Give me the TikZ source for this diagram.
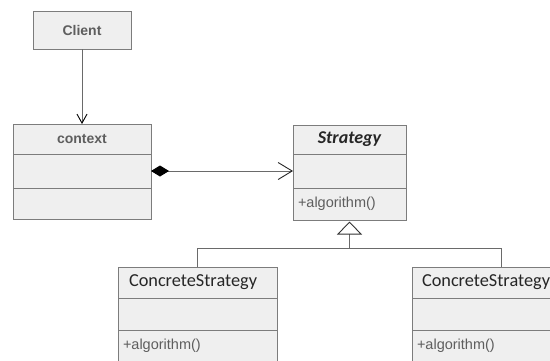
\documentclass[tikz,border=0pt]{standalone}
\usepackage{fontspec}
\setmainfont{Liberation Sans}
\newfontfamily\calibrifont{Carlito}
\usetikzlibrary{arrows.meta,positioning}

\definecolor{boxfill}{HTML}{EFEFEF}
\definecolor{boxline}{HTML}{7C7C7C}
\definecolor{wire}{HTML}{6A6A6A}
\definecolor{labelgray}{HTML}{5E5E5E}

\begin{document}
\begin{tikzpicture}[
    x=1pt, y=-1pt,
    node distance=0pt,
    part/.style={rectangle, draw=boxline, fill=boxfill, line width=0.9pt, inner sep=0pt, outer sep=0pt, anchor=north west},
    head/.style={part, minimum width=#1, minimum height=30pt, font=\fontsize{14}{16}\selectfont\bfseries, text=labelgray},
    slot/.style={part, minimum width=#1, minimum height=34pt},
    ops/.style={part, text width=#1, inner xsep=5pt, minimum height=32pt, align=left, font=\fontsize{14.5}{17}\selectfont, text=labelgray},
    cshead/.style={part, text width=#1, inner xsep=11pt, minimum height=31pt, align=left, font=\calibrifont\fontsize{18.3}{20}\selectfont, text=black!85},
    wireline/.style={draw=wire, line width=0.9pt}
]
\useasboundingbox (0,0) rectangle (550,360);
\clip (0,0) rectangle (550,360);

% client
\node[head=98pt, minimum height=38pt] (client) at (33,11) {Client};

% context class
\node[head=138pt] (ctx) at (13,124) {context};
\node[slot=138pt, below=of ctx] (ctxattr) {};
\node[slot=138pt, minimum height=31pt, below=of ctxattr] (ctxops) {};

% strategy interface
\node[head=113pt, minimum height=29pt, font=\calibrifont\fontsize{18}{20}\selectfont\bfseries\itshape, text=black!85] (strat) at (293,125) {Strategy};
\node[slot=113pt, below=of strat] (stratattr) {};
\node[ops=103pt, below=of stratattr] (stratops) {+algorithm()};

% concrete strategies
\node[cshead=137pt] (csleft) at (118,267) {ConcreteStrategy};
\node[slot=159pt, minimum height=32pt, below=of csleft] (csleftattr) {};
\node[ops=149pt, below=of csleftattr] (csleftops) {+algorithm()};

\node[cshead=158pt, inner xsep=10pt] (csright) at (412,267) {ConcreteStrategy};
\node[slot=178pt, minimum height=32pt, below=of csright] (csrightattr) {};
\node[ops=168pt, below=of csrightattr] (csrightops) {+algorithm()};

% associations
\draw[wireline, -{Straight Barb[length=9pt, width=10pt, black]}] (client) -- (ctx);
\draw[wireline, {Diamond[length=18pt, width=11pt, black]}-{Straight Barb[length=14pt, width=17pt, black!85]}] (ctxattr.east) -- (stratattr.west);

% generalisation
\coordinate[above=19pt of csleft.north] (rail);
\draw[wireline] (csleft.north) -- (csleft.north |- rail) -- (csright.north |- rail) -- (csright.north);
\draw[wireline, -{Triangle[length=13pt, width=25pt, fill=white, black!80]}, shorten >=1.5pt] (stratops.south |- rail) -- (stratops.south);
\end{tikzpicture}
\end{document}
